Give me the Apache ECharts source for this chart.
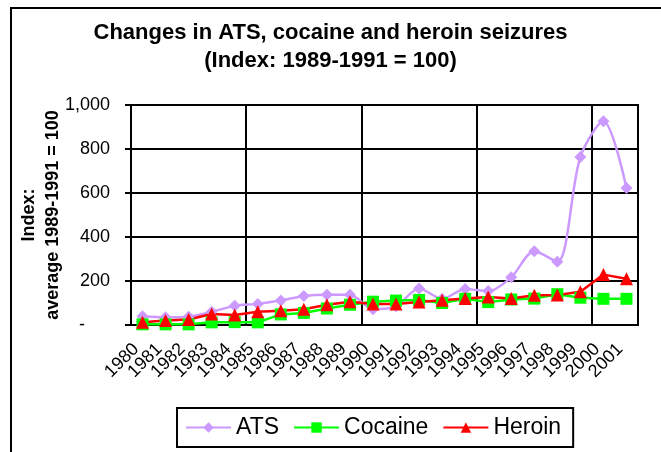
<!DOCTYPE html>
<html lang="en">
<head>
  <meta charset="UTF-8">
  <title>ATS, cocaine and heroin seizures</title>
  <style>
    html, body {
      margin: 0;
      padding: 0;
      background: #fff;
    }

    #chart {
      width: 661px;
      height: 452px;
    }
  </style>
</head>
<body>
  <div id="chart"></div>

  <script src="https://cdn.jsdelivr.net/npm/echarts@6/dist/echarts.min.js"></script>
  <script>
    // data
    const years = [
      '1980', '1981', '1982', '1983', '1984', '1985', '1986', '1987', '1988', '1989', '1990',
      '1991', '1992', '1993', '1994', '1995', '1996', '1997', '1998', '1999', '2000', '2001'
    ]
    const ats = [40, 35, 38, 60, 87, 96, 111, 132, 138, 138, 72, 85, 166, 119, 164, 154, 217, 335, 287, 764, 926, 623]
    const cocaine = [3, 3, 3, 12, 13, 12, 48, 55, 75, 92, 106, 111, 114, 100, 119, 104, 116, 120, 140, 124, 119, 119]
    const heroin = [12, 20, 25, 50, 45, 60, 65, 72, 92, 106, 95, 96, 105, 113, 120, 127, 120, 135, 136, 151, 229, 210]
    const yTicks = [0, 200, 400, 600, 800, 1000]

    const font = "'Liberation Sans', Arial, sans-serif"
    const chart = echarts.init(document.getElementById('chart'))

    function yLabel (v) {
      if (v === 0) return '-     '
      return v.toLocaleString('en-US')
    }

    // gridlines / ticks only every 5th year boundary
    function everyFifth (index) {
      return index % 5 === 0
    }

    chart.setOption({
      animation: false,
      backgroundColor: '#fff',
      textStyle: { fontFamily: font, color: '#000' },
      title: {
        text: 'Changes in ATS, cocaine and heroin seizures\n(Index: 1989-1991 = 100)',
        left: 'center',
        top: 14,
        textStyle: {
          fontFamily: font,
          fontSize: 22,
          fontWeight: 'bold',
          color: '#000',
          lineHeight: 28
        }
      },
      // outer chart frame
      graphic: [{
        type: 'rect',
        shape: { x: 11, y: 8, width: 700, height: 500 },
        style: { fill: 'none', stroke: '#000', lineWidth: 2 },
        silent: true
      }],
      legend: {
        left: 177,
        top: 408,
        padding: [8, 12, 8, 8],
        itemGap: 14,
        itemWidth: 45,
        itemHeight: 13,
        borderColor: '#000',
        borderWidth: 2,
        textStyle: { fontFamily: font, fontSize: 23, color: '#000' },
        data: ['ATS', 'Cocaine', 'Heroin']
      },
      grid: {
        left: 131,
        right: 23,
        top: 105,
        bottom: 127,
        show: true,
        borderColor: '#000',
        borderWidth: 2
      },
      xAxis: {
        type: 'category',
        data: years,
        boundaryGap: true,
        axisLine: { lineStyle: { color: '#000', width: 2 } },
        axisTick: { interval: everyFifth, length: 6, lineStyle: { color: '#000', width: 2 } },
        splitLine: { show: true, interval: everyFifth, lineStyle: { color: '#000', width: 2 } },
        axisLabel: {
          interval: 0,
          rotate: 45,
          margin: 15,
          padding: [0, 9, 0, 0],
          fontFamily: font,
          fontSize: 18,
          color: '#000'
        }
      },
      yAxis: {
        type: 'value',
        min: yTicks[0],
        max: yTicks[yTicks.length - 1],
        interval: 200,
        name: 'Index:\naverage 1989-1991 = 100',
        nameLocation: 'middle',
        nameRotate: 90,
        nameGap: 66,
        nameMoveOverlap: false,
        nameTextStyle: {
          fontFamily: font,
          fontSize: 18,
          fontWeight: 'bold',
          color: '#000',
          lineHeight: 24
        },
        axisLine: { show: true, lineStyle: { color: '#000', width: 2 } },
        axisTick: { show: true, length: 6, lineStyle: { color: '#000', width: 2 } },
        splitLine: { lineStyle: { color: '#000', width: 2 } },
        axisLabel: {
          margin: 21,
          fontFamily: font,
          fontSize: 18,
          color: '#000',
          formatter: yLabel
        }
      },
      series: [
        {
          name: 'ATS',
          type: 'line',
          data: ats,
          smooth: 0.3,
          symbol: 'diamond',
          symbolSize: 12,
          color: '#cc99ff',
          lineStyle: { width: 2.5 },
          itemStyle: { color: '#cc99ff' }
        },
        {
          name: 'Cocaine',
          type: 'line',
          data: cocaine,
          symbol: 'rect',
          symbolSize: 12,
          color: '#00ff00',
          lineStyle: { width: 2.5 },
          itemStyle: { color: '#00ff00' }
        },
        {
          name: 'Heroin',
          type: 'line',
          data: heroin,
          symbol: 'triangle',
          symbolSize: 13,
          color: '#ff0000',
          lineStyle: { width: 2.5 },
          itemStyle: { color: '#ff0000' }
        }
      ]
    })
  </script>
</body>
</html>
